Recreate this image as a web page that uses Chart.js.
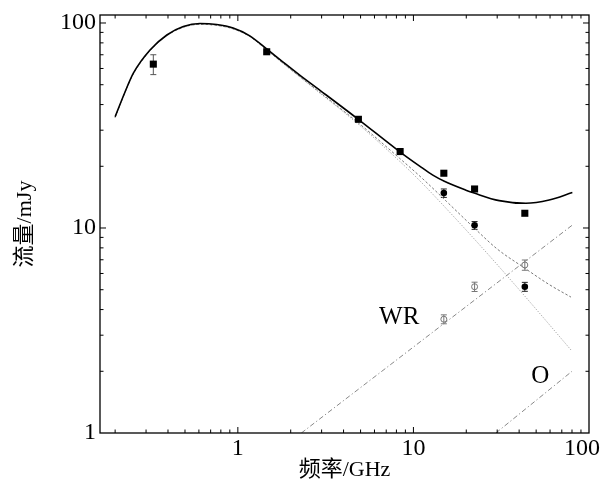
<!DOCTYPE html>
<html>
<head>
<meta charset="utf-8">
<script src="https://cdn.jsdelivr.net/npm/chart.js@4.4.1/dist/chart.umd.min.js"></script>
<style>
  html, body { margin: 0; padding: 0; background: #fff; }
  #wrap { width: 603px; height: 491px; }
</style>
</head>
<body>
<div id="wrap"><canvas id="sed"></canvas></div>
<script>
// measured fluxes (GHz, mJy)
const freqSquares = [0.33, 1.46, 4.86, 8.4, 14.9, 22.3, 43.1];
const fluxSquares = [63, 72.4, 33.9, 23.6, 18.5, 15.5, 11.8];
const errSquares = [7, 0, 0, 0, 0, 0, 0];

const freqCircles = [14.9, 22.3, 43.1];
const fluxFilled = [14.8, 10.3, 5.17];
const errFilled = [0.7, 0.45, 0.26];
const fluxOpen = [3.59, 5.17, 6.6];
const errOpen = [0.18, 0.27, 0.38];

// model curves
const totalFreq = [0.2, 0.228, 0.254, 0.316, 0.394, 0.489, 0.608, 0.757, 0.94, 1.17, 1.46, 1.81, 2.25, 2.8, 4.83, 8.33, 10.8, 12.9, 15.0, 19.9, 22.2, 30.8, 43.7, 59.3, 80.4];
const totalFlux = [34.9, 46.2, 56.9, 73.8, 87.4, 96.1, 99.4, 98.3, 94.5, 86.6, 74.7, 64.5, 55.7, 48.4, 34.0, 23.6, 20.1, 18.1, 16.9, 15.3, 14.8, 13.6, 13.2, 13.7, 14.9];

const synOFreq = [0.2, 0.228, 0.254, 0.316, 0.394, 0.489, 0.608, 0.757, 0.94, 1.17, 1.46, 1.81, 2.25, 2.8, 4.83, 8.33, 11.2, 15.4, 22.2, 30.0, 42.7, 59.3, 79.0];
const synOFlux = [34.6, 46.0, 56.5, 73.2, 86.7, 95.3, 98.5, 97.4, 93.6, 85.9, 73.9, 63.6, 54.8, 47.3, 32.7, 21.9, 17.5, 13.5, 10.0, 7.9, 6.4, 5.3, 4.6];

const synFreq = [0.2, 0.228, 0.254, 0.316, 0.394, 0.489, 0.608, 0.757, 0.94, 1.17, 1.46, 1.81, 2.25, 2.8, 4.83, 8.33, 10.8, 16.0, 25.3, 45.6, 79.0];
const synFlux = [34.6, 46.0, 56.5, 73.2, 86.7, 95.3, 98.5, 97.4, 93.6, 85.9, 73.9, 63.5, 54.6, 47.0, 32.2, 21.2, 17.1, 12.0, 7.81, 4.40, 2.54];

const wrFreq = [2.3, 80];
const wrFlux = [1.0, 10.3];
const oFreq = [29.5, 80];
const oFlux = [1.0, 2.0];

const xTicks = [1, 10, 100];
const yTicks = [1, 10, 100];

const pts = (xs, ys) => xs.map((v, i) => ({ x: v, y: ys[i] }));

const latin = '"Liberation Serif", "Noto Sans CJK SC", serif';

const decor = {
  id: 'decor',
  beforeDraw(chart) {
    // keep the last x label inside the canvas, as in the original figure
    const items = chart.scales.x.getLabelItems();
    const last = items[items.length - 1];
    if (last) {
      last.options.textAlign = 'right';
      last.options.translation[0] = chart.width - 3;
    }
  },
  beforeDatasetsDraw(chart) {
    const { ctx, scales: { x, y } } = chart;
    ctx.save();
    chart.data.datasets.forEach(ds => {
      if (!ds.errorBars) return;
      ctx.strokeStyle = ds.errorColor;
      ctx.lineWidth = 1;
      ds.data.forEach((p, j) => {
        const e = ds.errorBars[j];
        if (!e) return;
        const px = x.getPixelForValue(p.x);
        const y1 = y.getPixelForValue(p.y + e);
        const y2 = y.getPixelForValue(p.y - e);
        ctx.beginPath();
        ctx.moveTo(px, y1); ctx.lineTo(px, y2);
        ctx.moveTo(px - 3, y1); ctx.lineTo(px + 3, y1);
        ctx.moveTo(px - 3, y2); ctx.lineTo(px + 3, y2);
        ctx.stroke();
      });
    });
    ctx.restore();
  },
  afterDatasetsDraw(chart) {
    const { ctx, chartArea: a, scales: { x, y } } = chart;
    ctx.save();
    ctx.strokeStyle = '#000';
    ctx.lineWidth = 1;
    ctx.beginPath();
    for (let e = -1; e <= 2; e++) {
      for (let k = 1; k <= 9; k++) {
        const v = k * Math.pow(10, e);
        const len = k === 1 ? 6 : 3.5;
        if (v > x.min && v < x.max) {
          const px = x.getPixelForValue(v);
          ctx.moveTo(px, a.bottom); ctx.lineTo(px, a.bottom - len);
          ctx.moveTo(px, a.top); ctx.lineTo(px, a.top + len);
        }
        if (v > y.min && v < y.max) {
          const py = y.getPixelForValue(v);
          ctx.moveTo(a.left, py); ctx.lineTo(a.left + len, py);
          ctx.moveTo(a.right, py); ctx.lineTo(a.right - len, py);
        }
      }
    }
    ctx.stroke();
    ctx.lineWidth = 1.3;
    ctx.strokeRect(a.left, a.top, a.right - a.left, a.bottom - a.top);

    ctx.fillStyle = '#000';
    ctx.font = '25px ' + latin;
    ctx.textAlign = 'center';
    ctx.textBaseline = 'middle';
    ctx.fillText('WR', x.getPixelForValue(8.3), y.getPixelForValue(3.68));
    ctx.fillText('O', x.getPixelForValue(52.7), y.getPixelForValue(1.88));
    ctx.restore();
  }
};

const curve = { showLine: true, pointRadius: 0, borderWidth: 1, cubicInterpolationMode: 'monotone' };

new Chart(document.getElementById('sed'), {
  type: 'scatter',
  data: {
    datasets: [
      {
        data: pts(freqSquares, fluxSquares),
        errorBars: errSquares, errorColor: '#555',
        pointStyle: 'rect', pointRadius: 5, backgroundColor: '#000', borderWidth: 0,
      },
      {
        data: pts(freqCircles, fluxFilled),
        errorBars: errFilled, errorColor: '#222',
        pointStyle: 'circle', pointRadius: 3.3, backgroundColor: '#000', borderWidth: 0,
      },
      {
        data: pts(freqCircles, fluxOpen),
        errorBars: errOpen, errorColor: '#777',
        pointStyle: 'circle', pointRadius: 3, backgroundColor: 'rgba(0,0,0,0)',
        borderColor: '#777', borderWidth: 1,
      },
      { ...curve, data: pts(totalFreq, totalFlux), borderColor: '#000', borderWidth: 1.6 },
      { ...curve, data: pts(synOFreq, synOFlux), borderColor: '#777', borderDash: [2.5, 2] },
      { ...curve, data: pts(synFreq, synFlux), borderColor: '#999', borderDash: [1, 1.5] },
      { ...curve, data: pts(wrFreq, wrFlux), borderColor: '#888', borderDash: [5, 2.5, 1.2, 2.5] },
      { ...curve, data: pts(oFreq, oFlux), borderColor: '#888', borderDash: [5, 2.5, 1.2, 2.5] },
    ],
  },
  options: {
    responsive: true,
    maintainAspectRatio: false,
    animation: false,
    events: [],
    layout: { padding: { top: 15, right: 14, left: 0, bottom: 0 } },
    plugins: { legend: { display: false }, tooltip: { enabled: false } },
    scales: {
      x: {
        type: 'logarithmic',
        position: 'bottom',
        min: 0.164,
        max: 100,
        grid: { display: false, drawTicks: false },
        border: { display: false },
        afterBuildTicks: s => { s.ticks = xTicks.map(v => ({ value: v })); },
        afterFit: s => { s.height = 58; s.paddingLeft = 0; s.paddingRight = 0; },
        ticks: {
          color: '#000', padding: 1, maxRotation: 0, autoSkip: false,
          font: { family: latin, size: 24, lineHeight: 1.2 },
          callback: v => String(v),
        },
        title: {
          display: true, text: '频率/GHz', color: '#000',
          font: { family: latin, size: 22, lineHeight: 1.2 },
          padding: { top: 0, bottom: 8 },
        },
      },
      y: {
        type: 'logarithmic',
        min: 1,
        max: 109.4,
        grid: { display: false, drawTicks: false },
        border: { display: false },
        afterBuildTicks: s => { s.ticks = yTicks.map(v => ({ value: v })); },
        afterFit: s => { s.width = 100; s.paddingTop = 0; s.paddingBottom = 0; },
        ticks: {
          color: '#000', padding: 4,
          font: { family: latin, size: 24, lineHeight: 1.2 },
          callback: v => String(v),
        },
        title: {
          display: true, text: '流量/mJy', color: '#000',
          font: { family: latin, size: 22, lineHeight: 1.2 },
          padding: { top: 12, bottom: 0 },
        },
      },
    },
  },
  plugins: [decor],
});
</script>
</body>
</html>
